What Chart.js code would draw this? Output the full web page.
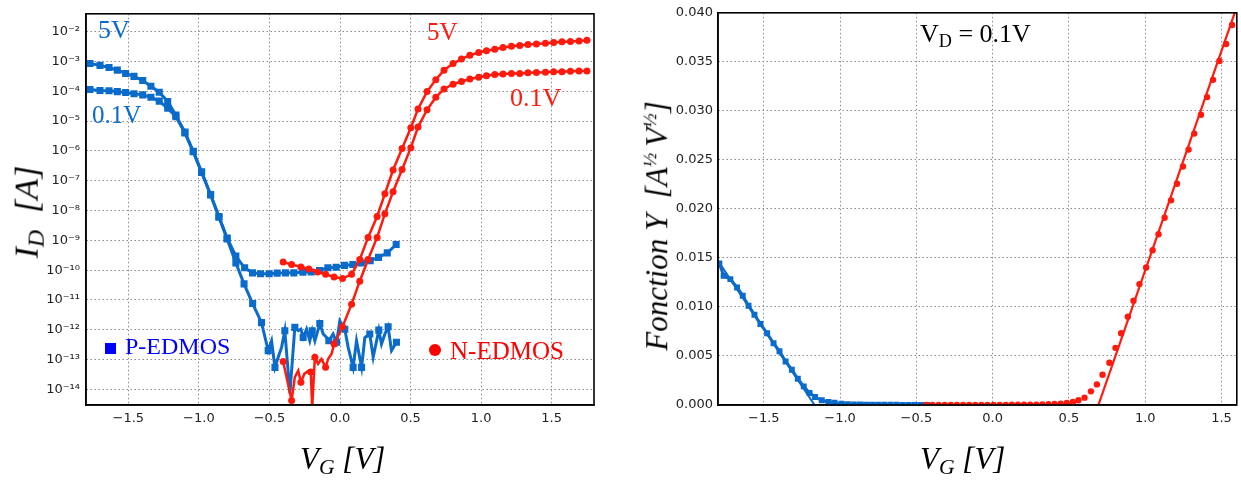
<!DOCTYPE html>
<html>
<head>
<meta charset="utf-8">
<script src="https://cdn.jsdelivr.net/npm/chart.js@4.4.1/dist/chart.umd.min.js"></script>
<style>
  body { margin: 0; background: #fff; }
  #wrap { position: relative; width: 1241px; height: 482px; }
  canvas { position: absolute; top: 0; }
  .t { position: absolute; line-height: 1; white-space: nowrap; font-family: 'Liberation Serif', serif; }
  .ax { font-style: italic; color: #000; }
  .rot { transform: translate(-50%, -50%) rotate(-90deg); }
  sub { font-size: 70%; vertical-align: -0.25em; }
  sup { font-size: 62%; vertical-align: 0.55em; }
</style>
</head>
<body>
<div id="wrap">
  <canvas id="left" width="620" height="482" style="left:0"></canvas>
  <canvas id="right" width="611" height="482" style="left:630px"></canvas>

  <div class="t" style="left:98px;top:17px;font-size:26px;color:#0b6bcb">5V</div>
  <div class="t" style="left:92px;top:102px;font-size:25px;color:#0b6bcb">0.1V</div>
  <div class="t" style="left:427px;top:19px;font-size:25px;color:#ff1a0d">5V</div>
  <div class="t" style="left:510px;top:85px;font-size:26px;color:#ff1a0d">0.1V</div>

  <div style="position:absolute;left:105px;top:343px;width:11px;height:11px;background:#0000ff"></div>
  <div class="t" style="left:125px;top:334px;font-size:24px;color:#0000ff">P-EDMOS</div>
  <div style="position:absolute;left:429px;top:344px;width:12px;height:12px;border-radius:50%;background:#ff0000"></div>
  <div class="t" style="left:450px;top:338px;font-size:25px;color:#ff0000">N-EDMOS</div>

  <div class="t" style="left:920px;top:21px;font-size:26px;color:#000">V<sub>D</sub> = 0.1V</div>

  <div class="t ax" style="left:300px;top:443px;font-size:31px">V<sub>G</sub> [V]</div>
  <div class="t ax" style="left:920px;top:443px;font-size:31px">V<sub>G</sub> [V]</div>
  <div class="t ax rot" style="left:29px;top:212px;font-size:34px">I<sub>D</sub>&nbsp;&nbsp;[A]</div>
  <div class="t ax rot" style="left:656px;top:226px;font-size:31px">Fonction Y&nbsp;&nbsp;[A<sup>½</sup>&thinsp;V<sup>½</sup>]</div>
</div>

<script>
// ---- left plot: transfer curves, log10 of I_D ----
// P-EDMOS, Vd = 5V
const pVg5 = [-1.772,-1.701,-1.637,-1.578,-1.519,-1.46,-1.398,-1.34,-1.281,-1.221,-1.163,-1.099,-1.04,-0.981,-0.917,-0.858,-0.8,-0.738,-0.676,-0.62,-0.563,-0.502,-0.445,-0.386,-0.327,-0.263,-0.204,-0.145,-0.086,-0.027,0.032,0.091,0.151,0.214,0.273,0.335,0.398];
const pLogId5 = [-3.07,-3.13,-3.2,-3.29,-3.4,-3.5,-3.64,-3.83,-4.03,-4.34,-4.8,-5.37,-6.01,-6.7,-7.46,-8.2,-8.92,-9.53,-9.92,-10.09,-10.12,-10.12,-10.1,-10.09,-10.09,-10.07,-10.06,-10.01,-9.92,-9.9,-9.84,-9.81,-9.76,-9.68,-9.57,-9.42,-9.14];
// P-EDMOS, Vd = 0.1V (marked points)
const pVg01 = [-1.772,-1.701,-1.637,-1.578,-1.519,-1.46,-1.398,-1.34,-1.281,-1.221,-1.163,-1.099,-1.04,-0.981,-0.917,-0.858,-0.8,-0.738,-0.68,-0.619,-0.556,-0.509,-0.461,-0.391,-0.32,-0.261,-0.197,-0.143,-0.079,-0.024,0.034,0.093,0.153,0.211,0.275,0.341,0.4];
const pLogId01 = [-3.94,-3.97,-3.98,-4.01,-4.04,-4.08,-4.12,-4.2,-4.33,-4.57,-4.85,-5.4,-6.03,-6.72,-7.48,-8.22,-8.95,-9.76,-10.46,-11.12,-11.76,-12.7,-13.26,-12.03,-11.92,-12.26,-12.03,-11.79,-12.37,-12.42,-11.98,-13.26,-13.26,-12.14,-12.01,-11.9,-12.42];
// P-EDMOS, Vd = 0.1V, extra noise points between markers
const pVgNoise = [-0.485,-0.438,-0.414,-0.355,-0.296,-0.277,-0.237,-0.214,-0.178,-0.119,-0.095,-0.049,-0.001,0.058,0.117,0.176,0.235,0.294,0.318,0.365];
const pLogNoise = [-12.37,-12.92,-12.59,-14.13,-12.03,-11.98,-11.98,-12.37,-12.37,-12.14,-12.26,-12.14,-11.7,-12.59,-12.37,-12.26,-12.92,-12.48,-12.14,-12.7];

// N-EDMOS, Vd = 5V
const nVg5 = [-0.403,-0.343,-0.277,-0.221,-0.159,-0.102,-0.042,0.018,0.082,0.14,0.199,0.263,0.318,0.376,0.44,0.502,0.553,0.617,0.679,0.737,0.801,0.861,0.92,0.983,1.038,1.097,1.155,1.215,1.274,1.332,1.392,1.456,1.514,1.573,1.633,1.694,1.75];
const nLogId5 = [-9.73,-9.81,-9.89,-9.96,-10.06,-10.14,-10.23,-10.28,-10.14,-9.64,-8.9,-8.2,-7.44,-6.64,-5.92,-5.22,-4.59,-4.01,-3.61,-3.29,-3.07,-2.92,-2.79,-2.7,-2.64,-2.59,-2.53,-2.49,-2.46,-2.43,-2.41,-2.39,-2.36,-2.34,-2.33,-2.31,-2.29];
// N-EDMOS, Vd = 0.1V (marked points)
const nVg01 = [-0.403,-0.343,-0.277,-0.207,-0.178,-0.102,-0.042,0.018,0.082,0.14,0.199,0.263,0.318,0.376,0.44,0.502,0.553,0.617,0.679,0.737,0.801,0.861,0.92,0.983,1.038,1.097,1.155,1.215,1.274,1.332,1.392,1.456,1.514,1.573,1.633,1.694,1.75];
const nLogId01 = [-13.06,-14.37,-13.76,-13.42,-12.92,-13.26,-12.48,-11.9,-11.14,-10.37,-9.64,-8.9,-8.11,-7.37,-6.62,-5.89,-5.2,-4.62,-4.2,-3.92,-3.76,-3.67,-3.59,-3.53,-3.48,-3.44,-3.42,-3.4,-3.4,-3.38,-3.37,-3.36,-3.34,-3.34,-3.33,-3.32,-3.32];
const nVgNoise = [-0.32,-0.296,-0.253,-0.221,-0.197,-0.155,-0.131,-0.084,-0.06];
const nLogNoise = [-13.59,-13.37,-13.48,-13.37,-14.6,-13.14,-12.98,-12.98,-12.81];

// ---- right plot: Y function at Vd = 0.1V ----
const pFnVg = [-1.791,-1.763,-1.719,-1.675,-1.638,-1.6,-1.561,-1.522,-1.478,-1.436,-1.397,-1.357,-1.316,-1.277,-1.238,-1.2,-1.164,-1.12,-1.076,-1.036,-0.99,-0.95,-0.91,-0.87,-0.83,-0.79,-0.75,-0.71,-0.67,-0.63,-0.59,-0.55,-0.51,-0.47,-0.43];
const pFnY = [0.01443,0.01318,0.01284,0.01199,0.01115,0.01013,0.00921,0.00827,0.00732,0.0063,0.00549,0.00444,0.0036,0.00268,0.0019,0.00122,0.00081,0.00048,0.0003,0.00024,0.00012,0.00008,0.00006,0.00005,0.00004,0.00003,0.00003,0.00002,0.00002,0.00002,0.00001,0.00001,0.00001,0.00001,0.00001];
const nFnVg = [-0.434,-0.394,-0.354,-0.314,-0.274,-0.234,-0.194,-0.154,-0.114,-0.074,-0.034,0.006,0.046,0.086,0.126,0.166,0.206,0.246,0.286,0.326,0.366,0.406,0.446,0.486,0.526,0.562,0.602,0.644,0.683,0.72,0.765,0.805,0.842,0.886,0.923,0.962,1.006,1.048,1.087,1.127,1.169,1.208,1.247,1.284,1.321,1.365,1.405,1.444,1.486,1.53,1.569];
const nFnY = [0.00001,0.00001,0.00001,0.00001,0.00001,0.00001,0.00001,0.00001,0.00001,0.00001,0.00001,0.00001,0.00001,0.00001,0.00002,0.00002,0.00002,0.00003,0.00004,0.00005,0.00007,0.0001,0.00013,0.0002,0.0003,0.00048,0.00075,0.00139,0.0021,0.00309,0.00431,0.00583,0.00732,0.00901,0.01064,0.01233,0.01402,0.01579,0.01741,0.0191,0.02087,0.02256,0.02432,0.02605,0.02768,0.0296,0.0314,0.03316,0.03509,0.03682,0.03875];
// linear fits (extrapolation to threshold)
const pFitVg = [-1.8, -1.167];
const pFitY = [0.0147, 0];
const nFitVg = [0.693, 1.62];
const nFitY = [0, 0.0415];

// ticks
const xTicks = [-1.5, -1.0, -0.5, 0.0, 0.5, 1.0, 1.5];
const logTicks = [-2, -3, -4, -5, -6, -7, -8, -9, -10, -11, -12, -13, -14];
const fnTicks = [0, 0.005, 0.01, 0.015, 0.02, 0.025, 0.03, 0.035, 0.04];

const BLUE = '#0b6bcb';
const RED = '#ff1a0d';

function pts(xs, ys) {
    return xs.map((x, i) => ({ x: x, y: ys[i] }));
}
function logPts(xs, ls) {
    return xs.map((x, i) => ({ x: x, y: Math.pow(10, ls[i]) }));
}
function merged(xs1, ls1, xs2, ls2) {
    return logPts(xs1.concat(xs2), ls1.concat(ls2)).sort((a, b) => a.x - b.x);
}

const SUP = { '-': '\u207B', '0': '\u2070', '1': '\u00B9', '2': '\u00B2', '3': '\u00B3', '4': '\u2074', '5': '\u2075', '6': '\u2076', '7': '\u2077', '8': '\u2078', '9': '\u2079' };
function minus(s) { return s.replace('-', '\u2212'); }

const framePlugin = {
    id: 'frame',
    afterDatasetsDraw(chart) {
        const { ctx, chartArea: a } = chart;
        ctx.save();
        ctx.strokeStyle = '#000';
        ctx.lineWidth = 1.6;
        ctx.strokeRect(a.left, a.top, a.right - a.left, a.bottom - a.top);
        ctx.restore();
    }
};

const tickFont = { family: 'DejaVu Sans', size: 13 };
const gridOpts = { color: '#8c8c8c', lineWidth: 1, drawTicks: false };
const borderOpts = { display: true, color: '#000', width: 1.5, dash: [1.5, 2.5] };

Chart.defaults.animation = false;

function xScale(maxV) {
    return {
        type: 'linear',
        min: -1.8, max: maxV,
        grid: gridOpts, border: borderOpts,
        afterBuildTicks: s => { s.ticks = xTicks.map(v => ({ value: v })); },
        afterFit: s => { s.height = 77; },
        ticks: { font: tickFont, color: '#222', padding: 6, maxRotation: 0,
                 callback: v => minus(v.toFixed(1)) }
    };
}

new Chart('left', {
    type: 'scatter',
    data: {
        datasets: [
            { data: logPts(nVg5, nLogId5), showLine: true, borderColor: RED, borderWidth: 2.5,
              backgroundColor: RED, pointStyle: 'circle', pointRadius: 3.5, pointBorderWidth: 0 },
            { data: merged(nVg01, nLogId01, nVgNoise, nLogNoise), showLine: true, borderColor: RED,
              borderWidth: 2.5, pointRadius: 0 },
            { data: logPts(nVg01, nLogId01), showLine: false, backgroundColor: RED,
              pointStyle: 'circle', pointRadius: 3.5, pointBorderWidth: 0 },
            { data: logPts(pVg5, pLogId5), showLine: true, borderColor: BLUE, borderWidth: 3,
              backgroundColor: BLUE, pointStyle: 'rect', pointRadius: 5, pointBorderWidth: 0 },
            { data: merged(pVg01, pLogId01, pVgNoise, pLogNoise), showLine: true, borderColor: BLUE,
              borderWidth: 3, pointRadius: 0 },
            { data: logPts(pVg01, pLogId01), showLine: false, backgroundColor: BLUE,
              pointStyle: 'rect', pointRadius: 5, pointBorderWidth: 0 }
        ]
    },
    options: {
        responsive: false,
        layout: { padding: { left: 0, top: 11, right: 26, bottom: 0 } },
        plugins: { legend: { display: false }, tooltip: { enabled: false } },
        scales: {
            x: xScale(1.8),
            y: {
                type: 'logarithmic',
                min: Math.pow(10, -14.5), max: Math.pow(10, -1.4),
                grid: gridOpts, border: borderOpts,
                afterBuildTicks: s => { s.ticks = logTicks.map(e => ({ value: Math.pow(10, e) })); },
                afterFit: s => { s.width = 86; },
                ticks: { font: tickFont, color: '#222', padding: 6,
                         callback: v => '10' + String(Math.round(Math.log10(v))).split('').map(c => SUP[c]).join('') }
            }
        }
    },
    plugins: [framePlugin]
});

new Chart('right', {
    type: 'scatter',
    data: {
        datasets: [
            { data: pts(nFnVg, nFnY), showLine: false, backgroundColor: RED,
              pointStyle: 'circle', pointRadius: 3.2, pointBorderWidth: 0 },
            { data: pts(nFitVg, nFitY), showLine: true, borderColor: RED, borderWidth: 2.2, pointRadius: 0 },
            { data: pts(pFnVg, pFnY), showLine: true, borderColor: BLUE, borderWidth: 3,
              backgroundColor: BLUE, pointStyle: 'rect', pointRadius: 4.2, pointBorderWidth: 0 },
            { data: pts(pFitVg, pFitY), showLine: true, borderColor: BLUE, borderWidth: 2, pointRadius: 0 }
        ]
    },
    options: {
        responsive: false,
        layout: { padding: { left: 0, top: 11, right: 3, bottom: 0 } },
        plugins: { legend: { display: false }, tooltip: { enabled: false } },
        scales: {
            x: xScale(1.6),
            y: {
                type: 'linear',
                min: 0, max: 0.04,
                grid: gridOpts, border: borderOpts,
                afterBuildTicks: s => { s.ticks = fnTicks.map(v => ({ value: v })); },
                afterFit: s => { s.width = 88; },
                ticks: { font: tickFont, color: '#222', padding: 5,
                         callback: v => v.toFixed(3) }
            }
        }
    },
    plugins: [framePlugin]
});
</script>
</body>
</html>
